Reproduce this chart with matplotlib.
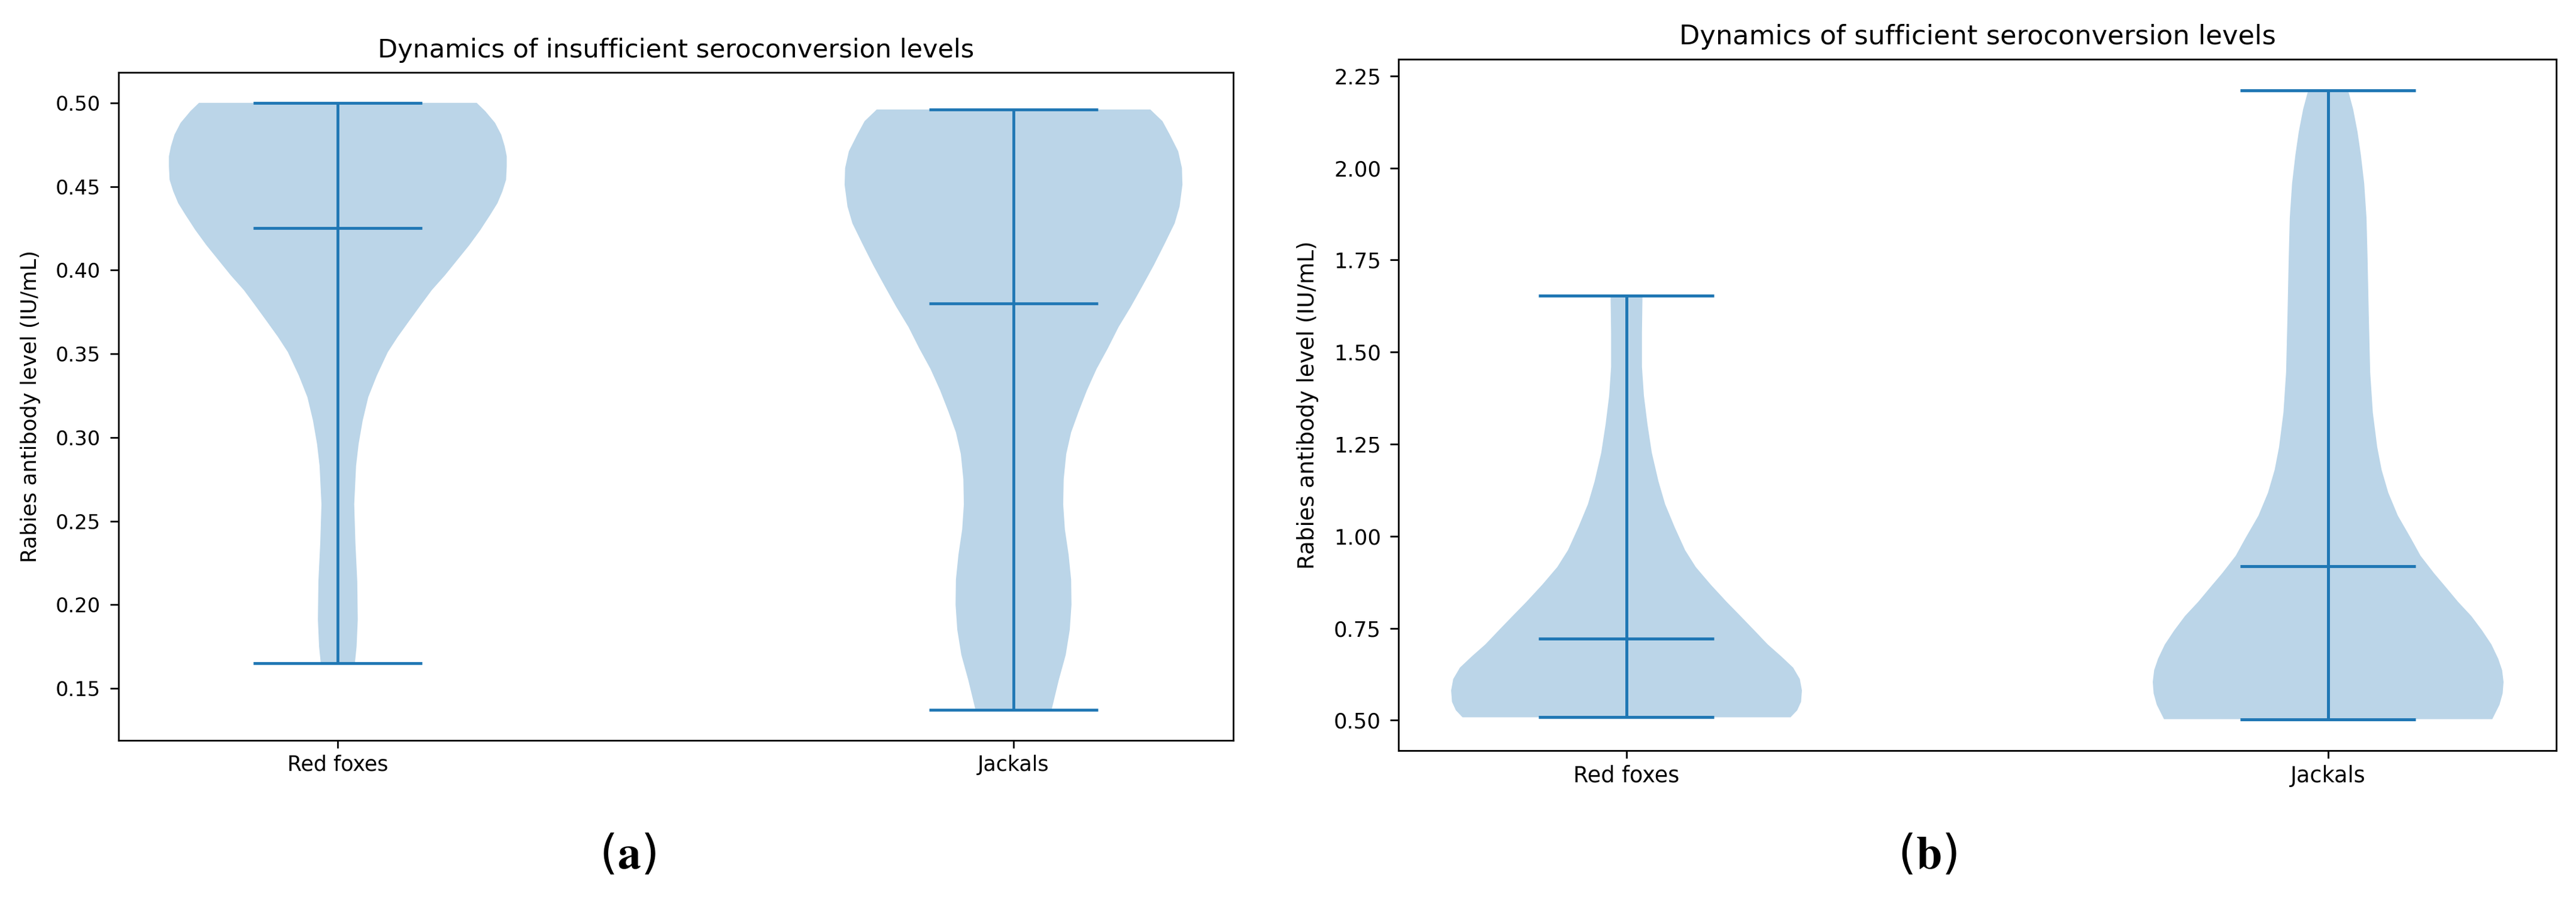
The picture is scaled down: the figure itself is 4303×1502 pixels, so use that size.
import numpy as np
import matplotlib
matplotlib.use("Agg")
import matplotlib.pyplot as plt

categories = ["Red foxes", "Jackals"]
ylabel = "Rabies antibody level (IU/mL)"

# (a) insufficient seroconversion, density profiles
insuf_fox_levels = [0.165, 0.175, 0.191, 0.214, 0.237, 0.260, 0.283, 0.296, 0.310,
                    0.324, 0.337, 0.351, 0.360, 0.369, 0.379, 0.388, 0.397, 0.406,
                    0.415, 0.424, 0.433, 0.440, 0.447, 0.454, 0.462, 0.468, 0.474,
                    0.481, 0.488, 0.495, 0.500]
insuf_fox_density = [0.101, 0.111, 0.118, 0.115, 0.104, 0.097, 0.108, 0.123, 0.147,
                     0.180, 0.231, 0.296, 0.354, 0.418, 0.490, 0.556, 0.635, 0.707,
                     0.779, 0.844, 0.902, 0.945, 0.974, 0.996, 1.000, 1.000, 0.988,
                     0.967, 0.931, 0.873, 0.822]
insuf_jackal_levels = [0.137, 0.155, 0.170, 0.185, 0.200, 0.215, 0.230, 0.245, 0.260,
                       0.275, 0.290, 0.303, 0.315, 0.328, 0.341, 0.353, 0.366, 0.378,
                       0.391, 0.403, 0.416, 0.428, 0.438, 0.451, 0.461, 0.471, 0.481,
                       0.489, 0.496]
insuf_jackal_density = [0.225, 0.268, 0.309, 0.333, 0.343, 0.341, 0.326, 0.304, 0.294,
                        0.297, 0.312, 0.341, 0.384, 0.434, 0.492, 0.557, 0.622, 0.694,
                        0.766, 0.831, 0.896, 0.954, 0.983, 1.000, 0.997, 0.975, 0.925,
                        0.882, 0.810]
insuf_means = [0.425, 0.380]
insuf_mins = [0.165, 0.137]
insuf_maxes = [0.500, 0.496]
insuf_yticks = [0.15, 0.20, 0.25, 0.30, 0.35, 0.40, 0.45, 0.50]

# (b) sufficient seroconversion
suf_fox_levels = [0.508, 0.527, 0.550, 0.581, 0.612, 0.643, 0.674, 0.706, 0.744,
                  0.783, 0.822, 0.869, 0.916, 0.962, 1.025, 1.087, 1.149, 1.227,
                  1.305, 1.382, 1.460, 1.554, 1.653]
suf_fox_density = [0.935, 0.973, 0.995, 1.000, 0.988, 0.950, 0.881, 0.805, 0.729,
                   0.650, 0.570, 0.479, 0.395, 0.334, 0.274, 0.220, 0.182, 0.144,
                   0.119, 0.099, 0.088, 0.088, 0.091]
suf_jackal_levels = [0.503, 0.542, 0.573, 0.604, 0.636, 0.667, 0.706, 0.744, 0.783,
                     0.822, 0.861, 0.900, 0.947, 0.993, 1.056, 1.118, 1.180, 1.242,
                     1.336, 1.445, 1.600, 1.756, 1.865, 1.958, 2.036, 2.098, 2.160, 2.210]
suf_jackal_density = [0.933, 0.974, 0.992, 0.997, 0.989, 0.967, 0.928, 0.875, 0.814,
                      0.738, 0.670, 0.601, 0.525, 0.472, 0.396, 0.342, 0.304, 0.279,
                      0.254, 0.239, 0.231, 0.224, 0.218, 0.205, 0.186, 0.167, 0.142, 0.114]
suf_means = [0.721, 0.919]
suf_mins = [0.508, 0.503]
suf_maxes = [1.653, 2.210]
suf_yticks = [0.50, 0.75, 1.00, 1.25, 1.50, 1.75, 2.00, 2.25]


def make_stats(levels, densities, means, mins, maxes):
    out = []
    for lv, dn, m, lo, hi in zip(levels, densities, means, mins, maxes):
        out.append({"coords": np.array(lv), "vals": np.array(dn), "mean": m,
                    "median": m, "min": lo, "max": hi})
    return out


def draw_panel(ax, stats, yticks, title, s, tick_fs, label_fs, title_fs):
    parts = ax.violin(stats, positions=[1, 2], widths=0.5,
                      showmeans=True, showextrema=True)
    for body in parts["bodies"]:
        body.set_linewidth(0)
    for key in ("cmeans", "cmins", "cmaxes", "cbars"):
        parts[key].set_linewidth(1.4 * s)
    ax.set_xticks([1, 2], categories)
    ax.set_yticks(yticks)
    ax.set_title(title, fontsize=title_fs, pad=18)
    ax.set_ylabel(ylabel, fontsize=label_fs, labelpad=18)
    ax.tick_params(axis="y", labelsize=tick_fs, length=10, width=0.8 * s, pad=11)
    ax.tick_params(axis="x", labelsize=tick_fs + 0.8, length=9, width=0.8 * s, pad=8)
    for sp in ax.spines.values():
        sp.set_linewidth(0.8 * s)


plt.rcParams["mathtext.fontset"] = "stix"
fig = plt.figure(figsize=(43.03, 15.02), dpi=100)

ax_a = fig.add_axes([0.0459, 0.1764, 0.4328, 0.7430])
draw_panel(ax_a,
           make_stats([insuf_fox_levels, insuf_jackal_levels],
                      [insuf_fox_density, insuf_jackal_density],
                      insuf_means, insuf_mins, insuf_maxes),
           insuf_yticks, "Dynamics of insufficient seroconversion levels",
           2.45, 24.3, 25.5, 31.0)

ax_b = fig.add_axes([0.5429, 0.1651, 0.4494, 0.7690])
draw_panel(ax_b,
           make_stats([suf_fox_levels, suf_jackal_levels],
                      [suf_fox_density, suf_jackal_density],
                      suf_means, suf_mins, suf_maxes),
           suf_yticks, "Dynamics of sufficient seroconversion levels",
           2.55, 25.5, 26.8, 32.2)

fig.text(0.2437, 0.0486, r"($\mathbf{a}$)", ha="center", va="center", fontsize=56)
fig.text(0.7483, 0.0486, r"($\mathbf{b}$)", ha="center", va="center", fontsize=56)

fig.savefig("out.png", dpi=100)
